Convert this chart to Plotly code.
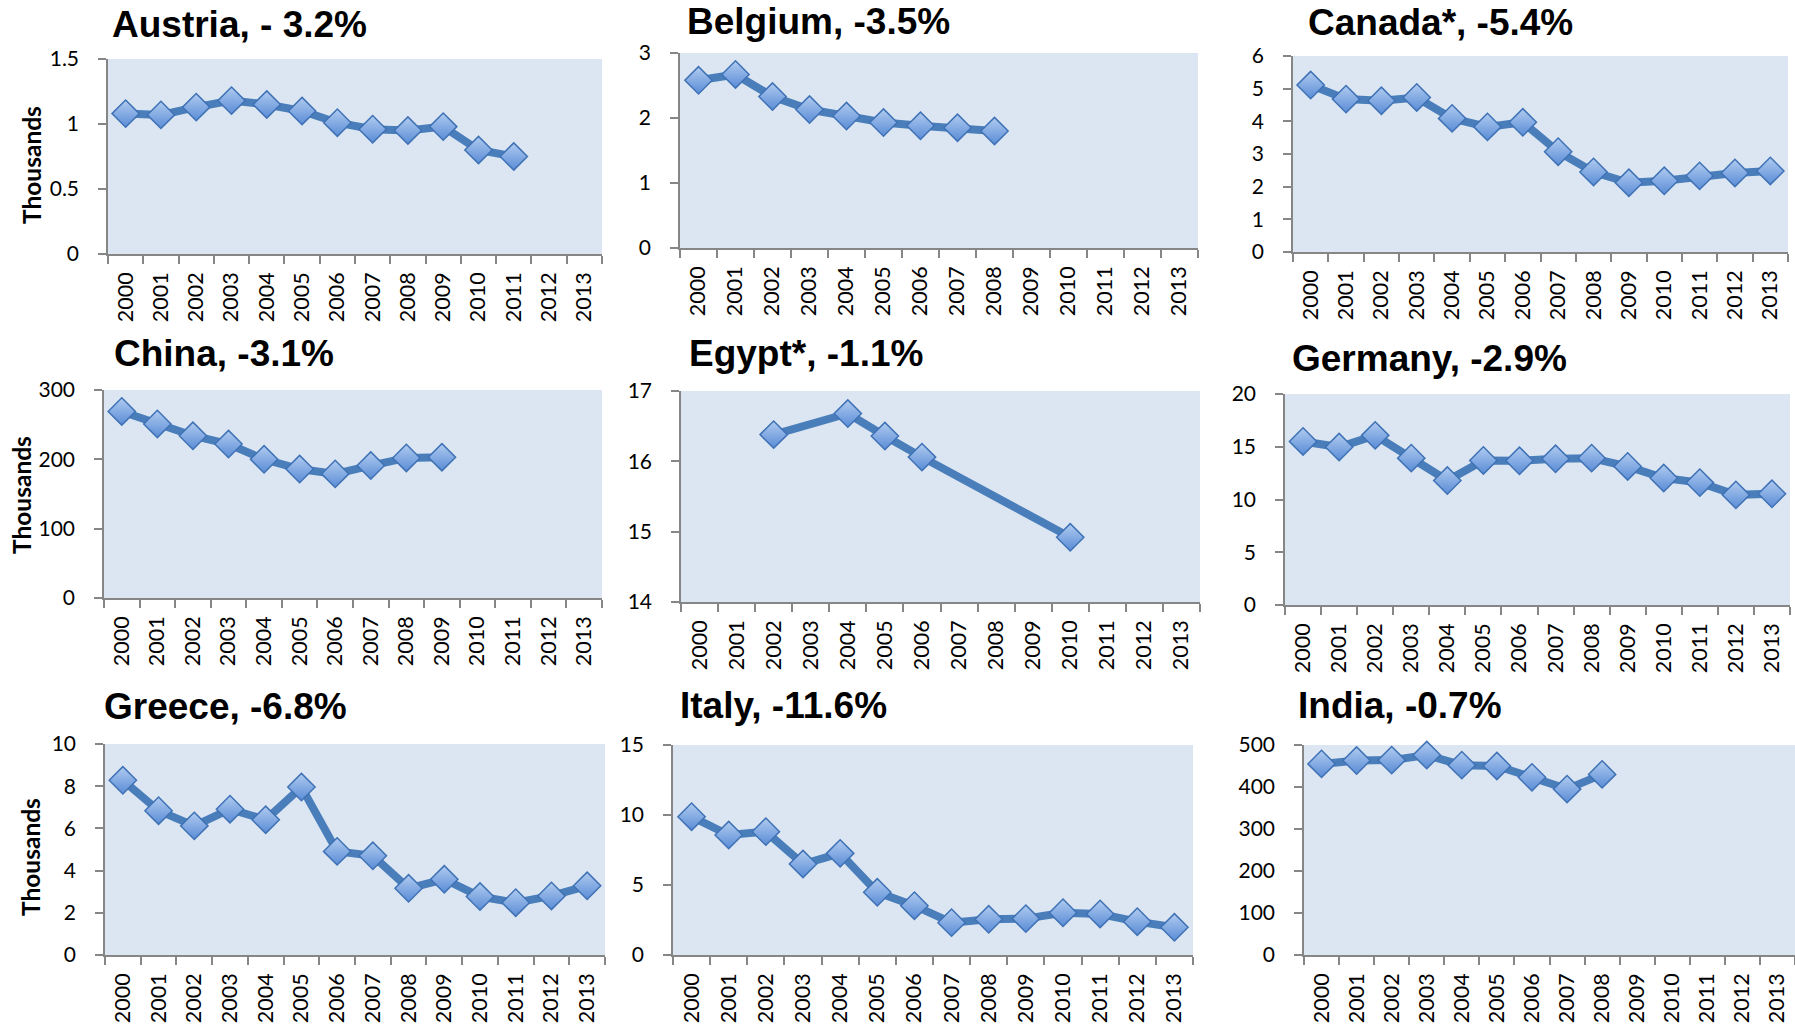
import plotly.graph_objects as go

years = [str(y) for y in range(2000, 2014)]

countries = ["Austria", "Belgium", "Canada*", "China", "Egypt*", "Germany", "Greece", "Italy", "India"]
titles = ["Austria, - 3.2%", "Belgium, -3.5%", "Canada*, -5.4%", "China, -3.1%", "Egypt*, -1.1%",
          "Germany, -2.9%", "Greece, -6.8%", "Italy, -11.6%", "India, -0.7%"]

austria = [1.08, 1.07, 1.13, 1.18, 1.15, 1.10, 1.01, 0.96, 0.95, 0.98, 0.80, 0.75, None, None]
belgium = [2.58, 2.67, 2.33, 2.13, 2.03, 1.93, 1.88, 1.85, 1.80, None, None, None, None, None]
canada = [5.11, 4.68, 4.63, 4.73, 4.09, 3.83, 3.97, 3.07, 2.45, 2.12, 2.18, 2.33, 2.42, 2.48]
china = [269, 251, 234, 222, 200, 186, 179, 191, 202, 203, None, None, None, None]
egypt = [None, None, 16.38, None, 16.68, 16.36, 16.06, None, None, None, 14.92, None, None, None]
germany = [15.5, 14.97, 16.08, 13.92, 11.8, 13.7, 13.67, 13.86, 13.92, 13.13, 12.03, 11.6, 10.44, 10.54]
greece = [8.28, 6.84, 6.12, 6.91, 6.41, 7.96, 4.91, 4.70, 3.16, 3.59, 2.77, 2.48, 2.80, 3.28]
italy = [9.88, 8.57, 8.81, 6.50, 7.26, 4.48, 3.52, 2.31, 2.55, 2.60, 3.02, 2.93, 2.38, 1.98]
india = [455, 463, 464, 476, 452, 450, 423, 395, 430, None, None, None, None, None]

series = [austria, belgium, canada, china, egypt, germany, greece, italy, india]
y_ranges = [[0, 1.5], [0, 3], [0, 6], [0, 300], [14, 17], [0, 20], [0, 10], [0, 15], [0, 500]]
y_dticks = [0.5, 1, 1, 100, 1, 5, 2, 5, 100]
ylabel_title = "Thousands"
show_ylabel = [True, False, False, True, False, False, True, False, False]

W, H = 1795, 1029
# plot areas in pixels: left, right, top, bottom
boxes = [
    (108, 602, 59, 254), (680, 1198, 53, 248), (1293, 1788, 56, 252),
    (104, 602, 390, 598), (681, 1200, 391, 602), (1285, 1790, 394, 605),
    (105, 605, 744, 955), (673, 1193, 745, 955), (1304, 1795, 745, 955),
]
title_pos = [
    (110, 24), (685, 21), (1306, 22),
    (112, 353), (687, 353), (1290, 358),
    (102, 706), (678, 705), (1296, 705),
]
ylabel_pos = [(32, 165), (21, 495), (30, 857)]

AX = "#868686"
LINE = "#4A7EBB"

fig = go.Figure()
layout = dict(
    width=W, height=H, margin=dict(l=0, r=0, t=0, b=0, autoexpand=False),
    paper_bgcolor="white", showlegend=False, annotations=[],
)

for i, (name, vals) in enumerate(zip(countries, series)):
    k = "" if i == 0 else str(i + 1)
    l, r, t, b = boxes[i]
    fig.add_trace(go.Scatter(
        x=years, y=vals, mode="lines+markers", name=name,
        xaxis="x" + k, yaxis="y" + k, connectgaps=True, cliponaxis=False,
        line=dict(color=LINE, width=8),
        marker=dict(symbol="diamond", size=21, color="#B0CBF0",
                    gradient=dict(type="vertical", color="#5A8CD6"),
                    line=dict(color="#3F72B5", width=1.5)),
    ))
    layout["xaxis" + k] = dict(
        domain=[l / W, min(r / W, 1.0)], anchor="y" + k, type="category",
        categoryorder="array", categoryarray=years, range=[-0.5, 13.5],
        showline=True, linecolor=AX, linewidth=1.5, ticks="outside", tickson="boundaries",
        ticklen=8, tickcolor=AX, tickwidth=1.5, tickangle=-90, showgrid=False,
        tickfont=dict(family="Lato", size=21.5, color="black"), ticklabelstandoff=8,
        fixedrange=True, automargin=False,
    )
    layout["yaxis" + k] = dict(
        domain=[1 - b / H, 1 - t / H], anchor="x" + k, range=y_ranges[i], dtick=y_dticks[i],
        showline=True, linecolor=AX, linewidth=1.5, ticks="outside", ticklen=8,
        tickcolor=AX, tickwidth=1.5, showgrid=False, zeroline=False,
        tickfont=dict(family="Lato", size=21, color="black"), ticklabelstandoff=15,
        fixedrange=True, automargin=False,
    )
    tx, ty = title_pos[i]
    layout["annotations"].append(dict(
        text=titles[i], xref="paper", yref="paper", x=tx / W, y=1 - ty / H,
        xanchor="left", yanchor="middle", showarrow=False,
        font=dict(family="Liberation Sans", size=37, color="black", weight="bold"),
    ))
    if show_ylabel[i]:
        lx, ly = ylabel_pos[i // 3]
        layout["annotations"].append(dict(
            text="<b>" + ylabel_title + "</b>", xref="paper", yref="paper",
            x=lx / W, y=1 - ly / H,
            xanchor="center", yanchor="middle", textangle=-90, showarrow=False,
            font=dict(family="Lato", size=24.5, color="black"),
        ))

layout["plot_bgcolor"] = "#DCE6F2"
fig.update_layout(**layout)
fig.write_html("out.html", config={"displayModeBar": False},
               post_script="document.body.style.margin='0';document.body.style.overflow='hidden';")
